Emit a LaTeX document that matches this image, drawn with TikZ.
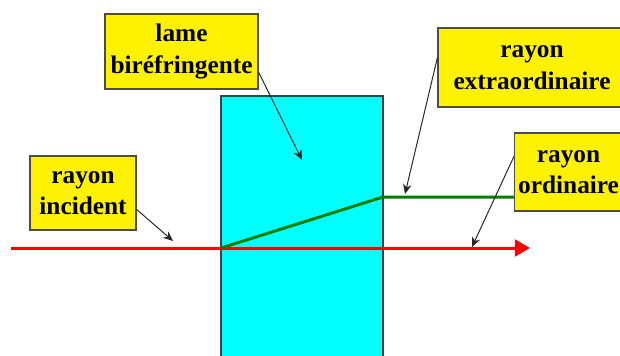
\documentclass[tikz,border=0pt]{standalone}
\usepackage{fontspec}
\setmainfont{Liberation Serif}
\usetikzlibrary{calc,arrows.meta}
\definecolor{plate}{RGB}{0,255,255}

\begin{document}
\begin{tikzpicture}[x=0.025cm, y=-0.025cm,
    labelbox/.style={draw=black!70, line width=0.8pt, fill=yellow, align=center,
        inner sep=0pt, font=\fontsize{18}{22.5}\selectfont\bfseries},
    pointer/.style={black!85, line width=0.7pt, -{Stealth[length=7pt,width=6pt]}},
    ray/.style={line width=0.075cm}]
    \useasboundingbox (0,0) rectangle (620,356);
    \clip (0,0) rectangle (620,356);

    % Draw the plate
    \draw[fill=plate, draw=black!75, line width=0.04cm] (221,366) -- (221,96) -- (383,96) -- (383,366);

    % Draw the rays
    \coordinate (entry) at (221,248);
    \coordinate (exit) at (383,197);
    \draw[ray, red, -{Triangle[length=0.38cm,width=0.42cm]}] (11,248) -- (530,248);
    \draw[ray, green!50!black] (entry) -- (exit) -- (560,197);

    % Draw the labels
    \node[labelbox, minimum width=4.7cm, minimum height=1.975cm] (extra) at (532,67.5) {rayon\\extraordinaire};
    \node[labelbox, minimum width=3.825cm, minimum height=1.875cm] (lame) at (181.5,51.5) {lame\\bir\'efringente};
    \node[labelbox, minimum width=2.65cm, minimum height=1.85cm] (inc) at (83,193) {rayon\\incident};
    \node[labelbox, minimum width=2.7cm, minimum height=1.95cm, anchor=west] (ordi) at (514,172) {rayon\\ordinaire};

    % Draw the pointers
    \coordinate (lametip) at (302,160);
    \coordinate (extratip) at (405,194);
    \coordinate (orditip) at (472,247);
    \coordinate (inctip) at (173,241);
    \draw[pointer] (lame.-15) -- (lametip);
    \draw[pointer] (extra.174) -- (extratip);
    \draw[pointer] (ordi.164) -- (orditip);
    \draw[pointer] (inc.-17) -- (inctip);
\end{tikzpicture}
\end{document}
